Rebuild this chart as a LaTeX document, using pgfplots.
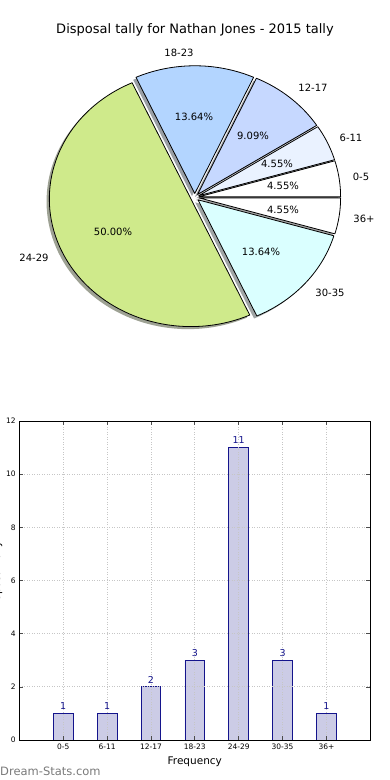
\documentclass[border=0pt]{standalone}
\usepackage{fontspec}
\setmainfont{DejaVu Sans}
\usepackage{pgfplots}
\pgfplotsset{compat=1.18}

\definecolor{cA}{RGB}{255,255,255}   % 0-5
\definecolor{cB}{RGB}{234,242,255}   % 6-11
\definecolor{cC}{RGB}{198,216,255}   % 12-17
\definecolor{cD}{RGB}{179,213,255}   % 18-23
\definecolor{cE}{RGB}{207,234,139}   % 24-29
\definecolor{cF}{RGB}{218,255,255}   % 30-35
\definecolor{cG}{RGB}{255,255,255}   % 36+
\definecolor{barfill}{RGB}{204,204,230}
\definecolor{baredge}{RGB}{20,20,140}

% pie geometry in pixel units
\def\cx{194.8}\def\cy{197.3}\def\Rx{141.6}\def\Ry{127.7}\def\ex{0.03}
\def\shx{2.8}\def\shy{2.55}
\def\tot{22}

% #1 = cumulative count before, #2 = cumulative count after
\newcommand{\pieshadow}[3]{%
  \fill[#3!30!black, opacity=0.5]
    ({\cx+\ex*\Rx*cos(180*(#1+#2)/\tot)-\shx},{\cy-\ex*\Ry*sin(180*(#1+#2)/\tot)+\shy})
    -- plot[domain=360*#1/\tot:360*#2/\tot, samples=80, variable=\t]
    ({\cx+\ex*\Rx*cos(180*(#1+#2)/\tot)-\shx+\Rx*cos(\t)},{\cy-\ex*\Ry*sin(180*(#1+#2)/\tot)+\shy-\Ry*sin(\t)})
    -- cycle;}
\newcommand{\piewedge}[3]{%
  \filldraw[fill=#3, draw=black, line width=0.8pt, line join=round]
    ({\cx+\ex*\Rx*cos(180*(#1+#2)/\tot)},{\cy-\ex*\Ry*sin(180*(#1+#2)/\tot)})
    -- plot[domain=360*#1/\tot:360*#2/\tot, samples=80, variable=\t]
    ({\cx+\ex*\Rx*cos(180*(#1+#2)/\tot)+\Rx*cos(\t)},{\cy-\ex*\Ry*sin(180*(#1+#2)/\tot)-\Ry*sin(\t)})
    -- cycle;}

\begin{document}
\begin{tikzpicture}
\useasboundingbox (0,0) rectangle (390pt,-780pt);

% ---------------- pie ----------------
\begin{axis}[at={(0pt,0pt)}, anchor=north west, scale only axis,
  width=390pt, height=390pt, xmin=0, xmax=390, ymin=0, ymax=390,
  y dir=reverse, hide axis, clip=false]
% counts: 0-5:1, 6-11:1, 12-17:2, 18-23:3, 24-29:11, 30-35:3, 36+:1  (total 22)
\pieshadow{0}{1}{cA}
\pieshadow{1}{2}{cB}
\pieshadow{2}{4}{cC}
\pieshadow{4}{7}{cD}
\pieshadow{7}{18}{cE}
\pieshadow{18}{21}{cF}
\pieshadow{21}{22}{cG}
\piewedge{0}{1}{cA}
\piewedge{1}{2}{cB}
\piewedge{2}{4}{cC}
\piewedge{4}{7}{cD}
\piewedge{7}{18}{cE}
\piewedge{18}{21}{cF}
\piewedge{21}{22}{cG}

\node[font=\fontsize{13}{15}\selectfont] at (195,30) {Disposal tally for Nathan Jones - 2015 tally};
\begin{scope}[every node/.style={font=\fontsize{10}{12}\selectfont}]
\node at (179,53) {18-23};
\node at (313,88) {12-17};
\node at (351,138) {6-11};
\node at (361,177) {0-5};
\node at (364,219) {36+};
\node at (330,293) {30-35};
\node at (34,258) {24-29};
\node at (194,117) {13.64\%};
\node at (253,136) {9.09\%};
\node at (277,164) {4.55\%};
\node at (283,186) {4.55\%};
\node at (283,210) {4.55\%};
\node at (261,252) {13.64\%};
\node at (113,232) {50.00\%};
\end{scope}
\end{axis}

% ---------------- bars ----------------
\begin{axis}[at={(19.3pt,-740pt)}, anchor=south west, scale only axis,
  width=351pt, height=319pt,
  xmin=-1, xmax=7, ymin=0, ymax=12,
  xtick={0,...,6}, xticklabels={0-5,6-11,12-17,18-23,24-29,30-35,36+},
  ytick={0,2,...,12},
  tick label style={font=\fontsize{7.5}{9}\selectfont},
  /pgf/number format/assume math mode=true,
  grid=major, major grid style={gray!45, dash pattern=on 1pt off 1.5pt, line width=0.7pt},
  axis on top, tick align=inside, tick pos=both,
  major tick length=4pt, tick style={black!70, line width=0.6pt},
  axis line style={black, line width=0.8pt},
  xlabel={Frequency},
  xlabel style={font=\fontsize{10.5}{12}\selectfont, at={(axis description cs:0.5,0)}, anchor=base, yshift=-24pt},
]
\addplot[ybar, bar width=0.45, fill=barfill, draw=baredge, line width=0.8pt,
  nodes near coords, nodes near coords style={text=baredge, font=\fontsize{9.5}{11}\selectfont}]
  coordinates {(0,1) (1,1) (2,2) (3,3) (4,11) (5,3) (6,1)};
\end{axis}

\node[rotate=90, anchor=base, font=\fontsize{10.5}{12}\selectfont] at (0pt,-576pt) {Disposal tally};
\node[anchor=base west, text=black!52, font=\fontsize{11.5}{13}\selectfont, inner sep=0pt] at (0pt,-775pt) {Dream-Stats.com};
\end{tikzpicture}
\end{document}
